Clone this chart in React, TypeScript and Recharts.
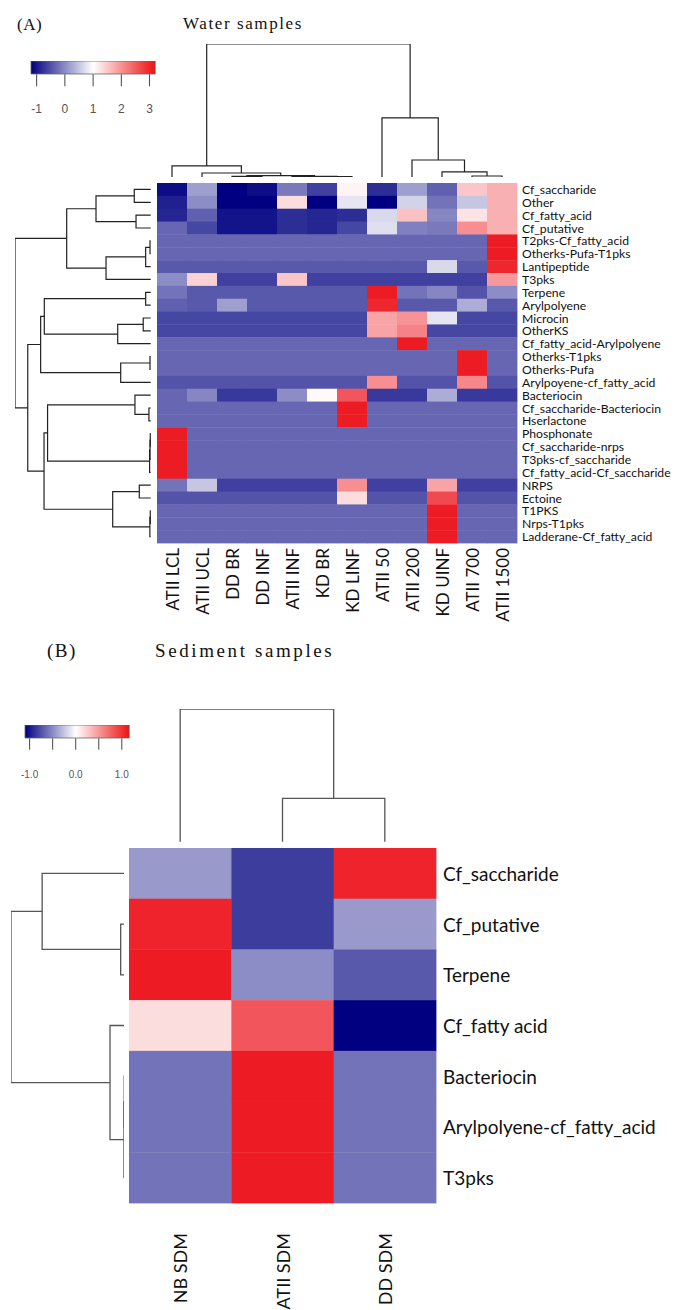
import React from 'react';
import { ScatterChart, Scatter, LineChart, Line, BarChart, Bar, XAxis, YAxis } from 'recharts';

// ---- Panel A: water samples ----
const waterSamples = ['ATII LCL', 'ATII UCL', 'DD BR', 'DD INF', 'ATII INF', 'KD BR', 'KD LINF', 'ATII 50', 'ATII 200', 'KD UINF', 'ATII 700', 'ATII 1500'];
const waterClusters = [
  'Cf_saccharide', 'Other', 'Cf_fatty_acid', 'Cf_putative', 'T2pks-Cf_fatty_acid', 'Otherks-Pufa-T1pks',
  'Lantipeptide', 'T3pks', 'Terpene', 'Arylpolyene', 'Microcin', 'OtherKS', 'Cf_fatty_acid-Arylpolyene',
  'Otherks-T1pks', 'Otherks-Pufa', 'Arylpoyene-cf_fatty_acid', 'Bacteriocin', 'Cf_saccharide-Bacteriocin',
  'Hserlactone', 'Phosphonate', 'Cf_saccharide-nrps', 'T3pks-cf_saccharide', 'Cf_fatty_acid-Cf_saccharide',
  'NRPS', 'Ectoine', 'T1PKS', 'Nrps-T1pks', 'Ladderane-Cf_fatty_acid',
];
const waterValues = [
  [-0.9, 0.25, -1.0, -0.9, -0.05, -0.5, 1.1, -0.65, 0.25, -0.25, 1.5, 1.7],
  [-0.75, 0.1, -1.0, -1.0, 1.3, -1.0, 0.8, -1.0, 0.65, -0.1, 0.55, 1.7],
  [-0.7, -0.25, -0.85, -0.85, -0.65, -0.7, -0.65, 0.7, 1.55, 0.05, 1.25, 1.7],
  [-0.2, -0.45, -0.85, -0.85, -0.65, -0.7, -0.45, 0.75, 0.0, -0.05, 2.0, 1.7],
  [-0.2, -0.2, -0.2, -0.2, -0.2, -0.2, -0.2, -0.2, -0.2, -0.2, -0.2, 3.0],
  [-0.2, -0.2, -0.2, -0.2, -0.2, -0.2, -0.2, -0.2, -0.2, -0.2, -0.2, 3.0],
  [-0.3, -0.3, -0.3, -0.3, -0.3, -0.3, -0.3, -0.3, -0.3, 0.7, -0.3, 2.9],
  [0.1, 1.4, -0.5, -0.5, 1.5, -0.5, -0.5, -0.5, -0.5, -0.5, -0.5, 1.9],
  [-0.1, -0.3, -0.3, -0.3, -0.3, -0.3, -0.3, 3.0, -0.1, 0.05, -0.35, 0.1],
  [-0.25, -0.3, 0.25, -0.3, -0.3, -0.3, -0.3, 2.9, -0.3, -0.3, 0.35, -0.3],
  [-0.45, -0.45, -0.45, -0.45, -0.45, -0.45, -0.45, 1.8, 1.95, 0.8, -0.45, -0.45],
  [-0.45, -0.45, -0.45, -0.45, -0.45, -0.45, -0.45, 1.8, 2.1, -0.45, -0.45, -0.45],
  [-0.2, -0.2, -0.2, -0.2, -0.2, -0.2, -0.2, -0.2, 3.0, -0.2, -0.2, -0.2],
  [-0.2, -0.2, -0.2, -0.2, -0.2, -0.2, -0.2, -0.2, -0.2, -0.2, 3.0, -0.2],
  [-0.2, -0.2, -0.2, -0.2, -0.2, -0.2, -0.2, -0.2, -0.2, -0.2, 3.0, -0.2],
  [-0.35, -0.35, -0.35, -0.35, -0.35, -0.35, -0.35, 2.0, -0.35, -0.35, 2.05, -0.35],
  [-0.2, 0.05, -0.55, -0.55, 0.1, 1.05, 2.5, -0.55, -0.55, 0.35, -0.55, -0.55],
  [-0.2, -0.2, -0.2, -0.2, -0.2, -0.2, 3.0, -0.2, -0.2, -0.2, -0.2, -0.2],
  [-0.2, -0.2, -0.2, -0.2, -0.2, -0.2, 3.0, -0.2, -0.2, -0.2, -0.2, -0.2],
  [3.0, -0.2, -0.2, -0.2, -0.2, -0.2, -0.2, -0.2, -0.2, -0.2, -0.2, -0.2],
  [3.0, -0.2, -0.2, -0.2, -0.2, -0.2, -0.2, -0.2, -0.2, -0.2, -0.2, -0.2],
  [3.0, -0.2, -0.2, -0.2, -0.2, -0.2, -0.2, -0.2, -0.2, -0.2, -0.2, -0.2],
  [3.0, -0.2, -0.2, -0.2, -0.2, -0.2, -0.2, -0.2, -0.2, -0.2, -0.2, -0.2],
  [-0.1, 0.55, -0.5, -0.5, -0.5, -0.5, 2.0, -0.5, -0.5, 1.8, -0.5, -0.5],
  [-0.35, -0.35, -0.35, -0.35, -0.35, -0.35, 1.3, -0.35, -0.35, 2.6, -0.35, -0.35],
  [-0.2, -0.2, -0.2, -0.2, -0.2, -0.2, -0.2, -0.2, -0.2, 3.0, -0.2, -0.2],
  [-0.2, -0.2, -0.2, -0.2, -0.2, -0.2, -0.2, -0.2, -0.2, 3.0, -0.2, -0.2],
  [-0.2, -0.2, -0.2, -0.2, -0.2, -0.2, -0.2, -0.2, -0.2, 3.0, -0.2, -0.2],
];
const waterKeyTicks = [-1, 0, 1, 2, 3];

// dendrograms: leaf = row/column index, node = [left, right, height]
type Tree = number | [Tree, Tree, number];
const waterRowTree: Tree = [
  [[[0, 1, 1.21], [2, 3, 1.08], 4.03], [[[4, 5, 0.05], 6, 0.37], 7, 3.29], 6.19],
  [
    [[[8, 9, 0.37], [[10, 11, 0.55], 12, 2.43], 7.84], [[13, 14, 0.05], 15, 2.21], 8.11],
    [
      [[16, [17, 18, 0.13], 1.16], [[[19, 20, 0.03], 21, 0.05], 22, 0.08], 7.6],
      [[23, 24, 0.84], [[25, 26, 0.03], 27, 0.06], 2.8],
      7.86,
    ],
    9.06,
  ],
  10,
];
const waterColTree: Tree = [
  [0, [1, [[2, 3, 0.04], [4, [5, 6, 0.03], 0.05], 0.1], 0.3], 0.83],
  [7, [8, [9, [10, 11, 0.075], 0.38], 1.28], 4.44],
  10,
];

// ---- Panel B: sediment samples ----
const sedimentSamples = ['NB SDM', 'ATII SDM', 'DD SDM'];
const sedimentClusters = ['Cf_saccharide', 'Cf_putative', 'Terpene', 'Cf_fatty acid', 'Bacteriocin', 'Arylpolyene-cf_fatty_acid', 'T3pks'];
const sedimentValues = [
  [-0.4, -0.76, 0.97],
  [0.97, -0.76, -0.4],
  [1.0, -0.45, -0.65],
  [0.15, 0.75, -1.0],
  [-0.55, 1.0, -0.55],
  [-0.55, 1.0, -0.55],
  [-0.55, 1.0, -0.55],
];
const sedimentKeyTicks = [-1, -0.5, 0, 0.5, 1];
const sedimentRowTree: Tree = [[0, [1, 2, 0.32], 7.25], [3, [[4, 5, 0.01], 6, 0.03], 1.26], 10];
const sedimentColTree: Tree = [0, [1, 2, 3.26], 10];

const LABEL_FONT = 'Lato, "Noto Sans", sans-serif';
const TITLE_FONT = '"Liberation Serif", "DejaVu Serif", serif';
const NAVY = [0, 0, 128];
const WHITE = [255, 255, 255];
const RED = [237, 28, 36];

const mix = (a: number[], b: number[], t: number) =>
  `rgb(${a.map((c, i) => Math.round(c + (b[i] - c) * t)).join(',')})`;

function scaleColor(lo: number, mid: number, hi: number) {
  return (v: number) => {
    if (v <= mid) return mix(NAVY, WHITE, Math.max(0, (v - lo) / (mid - lo)));
    return mix(WHITE, RED, Math.min(1, (v - mid) / (hi - mid)));
  };
}
const waterColor = scaleColor(-1, 1, 3);
const sedimentColor = scaleColor(-1, 0, 1);

type Pt = { h: number; p: number };
function layoutTree(t: Tree, out: Pt[][]): Pt {
  if (typeof t === 'number') return { h: 0, p: t + 0.5 };
  const a = layoutTree(t[0], out);
  const b = layoutTree(t[1], out);
  out.push([
    { h: a.h, p: a.p },
    { h: t[2], p: a.p },
    { h: t[2], p: b.p },
    { h: b.h, p: b.p },
  ]);
  return { h: t[2], p: (a.p + b.p) / 2 };
}

const abs = (left: number, top: number): React.CSSProperties => ({ position: 'absolute', left, top });

function Dendrogram({ tree, n, side, left, top, width, height, stroke, strokeWidth }: any) {
  const paths: Pt[][] = [];
  const root = layoutTree(tree, paths);
  const lines = paths.map((d, i) => (
    <Line key={i} data={d} dataKey={side === 'row' ? 'p' : 'h'} stroke={stroke} strokeWidth={strokeWidth}
      dot={false} activeDot={false} isAnimationActive={false} />
  ));
  return (
    <div style={abs(left, top)}>
      <LineChart width={width} height={height} margin={{ top: 0, right: 0, bottom: 0, left: 0 }} style={{ overflow: 'visible' }}>
        {side === 'row' ? (
          <>
            <XAxis type="number" dataKey="h" domain={[0, root.h]} reversed hide />
            <YAxis type="number" domain={[0, n]} reversed hide />
          </>
        ) : (
          <>
            <XAxis type="number" dataKey="p" domain={[0, n]} hide />
            <YAxis type="number" domain={[0, root.h]} hide />
          </>
        )}
        {lines}
      </LineChart>
    </div>
  );
}

function Heatmap({ rows, cols, values, color, left, top, plotW, plotH, width, height, rowFont, colFont, rowGap, colGap }: any) {
  const cw = plotW / cols.length;
  const ch = plotH / rows.length;
  const cells = values.flatMap((r: number[], i: number) => r.map((v, j) => ({ x: j + 0.5, y: i + 0.5, v })));
  return (
    <div style={abs(left, top)}>
      <ScatterChart width={width} height={height} margin={{ top: 0, right: 0, bottom: 0, left: 0 }}>
        <XAxis type="number" dataKey="x" domain={[0, cols.length]} ticks={cols.map((_: string, i: number) => i + 0.5)}
          height={height - plotH} axisLine={false} tickLine={false} tickSize={0} tickMargin={0} interval={0}
          tick={(p: any) => (
            <text x={p.x} y={p.y + colGap} transform={`rotate(-90 ${p.x} ${p.y + colGap})`} textAnchor="end"
              dominantBaseline="central" fontSize={colFont} fontFamily={LABEL_FONT} fill="#111">
              {cols[Math.floor(p.payload.value)]}
            </text>
          )} />
        <YAxis type="number" dataKey="y" orientation="right" domain={[0, rows.length]} reversed
          ticks={rows.map((_: string, i: number) => i + 0.5)} width={width - plotW} axisLine={false} tickLine={false}
          tickSize={0} tickMargin={0} interval={0}
          tick={(p: any) => (
            <text x={p.x + rowGap} y={p.y} textAnchor="start" dominantBaseline="central" fontSize={rowFont}
              fontFamily={LABEL_FONT} fill="#111">
              {rows[Math.floor(p.payload.value)]}
            </text>
          )} />
        <Scatter data={cells} isAnimationActive={false}
          shape={(p: any) => (
            <rect x={p.cx - cw / 2} y={p.cy - ch / 2} width={cw + 0.4} height={ch + 0.4}
              fill={color((p.payload ?? p).v)} />
          )} />
      </ScatterChart>
    </div>
  );
}

function ColorKey({ id, lo, hi, mid, ticks, fmt, left, top, barW, barH, tickLen, tickGap, fontSize }: any) {
  const pad = 14;
  const whiteAt = ((mid - lo) / (hi - lo)) * 100;
  return (
    <div style={abs(left - pad, top)}>
      <BarChart width={barW + pad * 2} height={barH + 50} layout="vertical" data={[{ name: 'key', range: [lo, hi] }]}
        margin={{ top: 0, right: pad, bottom: 0, left: pad }} barCategoryGap={0}>
        <defs>
          <linearGradient id={id} x1="0" y1="0" x2="1" y2="0">
            <stop offset="0%" stopColor="#00007f" />
            <stop offset={`${whiteAt}%`} stopColor="#ffffff" />
            <stop offset="100%" stopColor="#ee1111" />
          </linearGradient>
        </defs>
        <XAxis type="number" domain={[lo, hi]} ticks={ticks} interval={0} height={50} axisLine={false}
          tickSize={tickLen} tickMargin={tickGap} tickLine={{ stroke: '#444', strokeWidth: 1 }} tickFormatter={fmt}
          tick={{ fontSize, fill: '#555', fontFamily: '"Liberation Sans", Arial, sans-serif' }} />
        <YAxis type="category" dataKey="name" hide />
        <Bar dataKey="range" fill={`url(#${id})`} stroke="#666" strokeWidth={0.8} isAnimationActive={false} />
      </BarChart>
    </div>
  );
}

const titleStyle = (left: number, top: number, size: number, spacing: number): React.CSSProperties => ({
  position: 'absolute', left, top, fontFamily: TITLE_FONT, fontSize: size, letterSpacing: spacing,
  color: '#111', lineHeight: 1, whiteSpace: 'nowrap',
});

export default function App() {
  return (
    <div style={{ position: 'absolute', left: 0, top: 0, width: 683, height: 1310, background: '#fff', overflow: 'hidden' }}>
      <div style={titleStyle(17, 16, 17, 0.5)}>(A)</div>
      <div style={titleStyle(183, 15, 17, 1.6)}>Water samples</div>
      <ColorKey id="gradA" lo={-1.2} hi={3.2} mid={1} ticks={waterKeyTicks} fmt={(v: number) => `${v}`}
        left={31.4} top={60.7} barW={124.2} barH={13.3} tickLen={12} tickGap={18} fontSize={12} />
      <Dendrogram tree={waterColTree} n={waterSamples.length} side="col" left={157} top={44} width={360} height={133}
        stroke="#222" strokeWidth={1.2} />
      <Dendrogram tree={waterRowTree} n={waterClusters.length} side="row" left={15} top={183} width={135.7} height={360}
        stroke="#222" strokeWidth={1.2} />
      <Heatmap rows={waterClusters} cols={waterSamples} values={waterValues} color={waterColor}
        left={157} top={183} plotW={360} plotH={360} width={526} height={450}
        rowFont={12.2} colFont={17} rowGap={5} colGap={5} />

      <div style={titleStyle(47, 641, 19, 1.5)}>(B)</div>
      <div style={titleStyle(155, 641, 19, 2.6)}>Sediment samples</div>
      <ColorKey id="gradB" lo={-1.1} hi={1.16} mid={0} ticks={sedimentKeyTicks}
        fmt={(v: number) => (v === -1 || v === 0 || v === 1 ? v.toFixed(1) : '')}
        left={24.8} top={725.3} barW={104.2} barH={13.4} tickLen={11.3} tickGap={21} fontSize={10} />
      <Dendrogram tree={sedimentColTree} n={sedimentSamples.length} side="col" left={129} top={709.3} width={307}
        height={132.7} stroke="#555" strokeWidth={1.3} />
      <Dendrogram tree={sedimentRowTree} n={sedimentClusters.length} side="row" left={11} top={848} width={113.3}
        height={355} stroke="#555" strokeWidth={1.3} />
      <Heatmap rows={sedimentClusters} cols={sedimentSamples} values={sedimentValues} color={sedimentColor}
        left={129} top={848} plotW={307} plotH={355} width={554} height={462}
        rowFont={19} colFont={18} rowGap={7} colGap={30} />
    </div>
  );
}
